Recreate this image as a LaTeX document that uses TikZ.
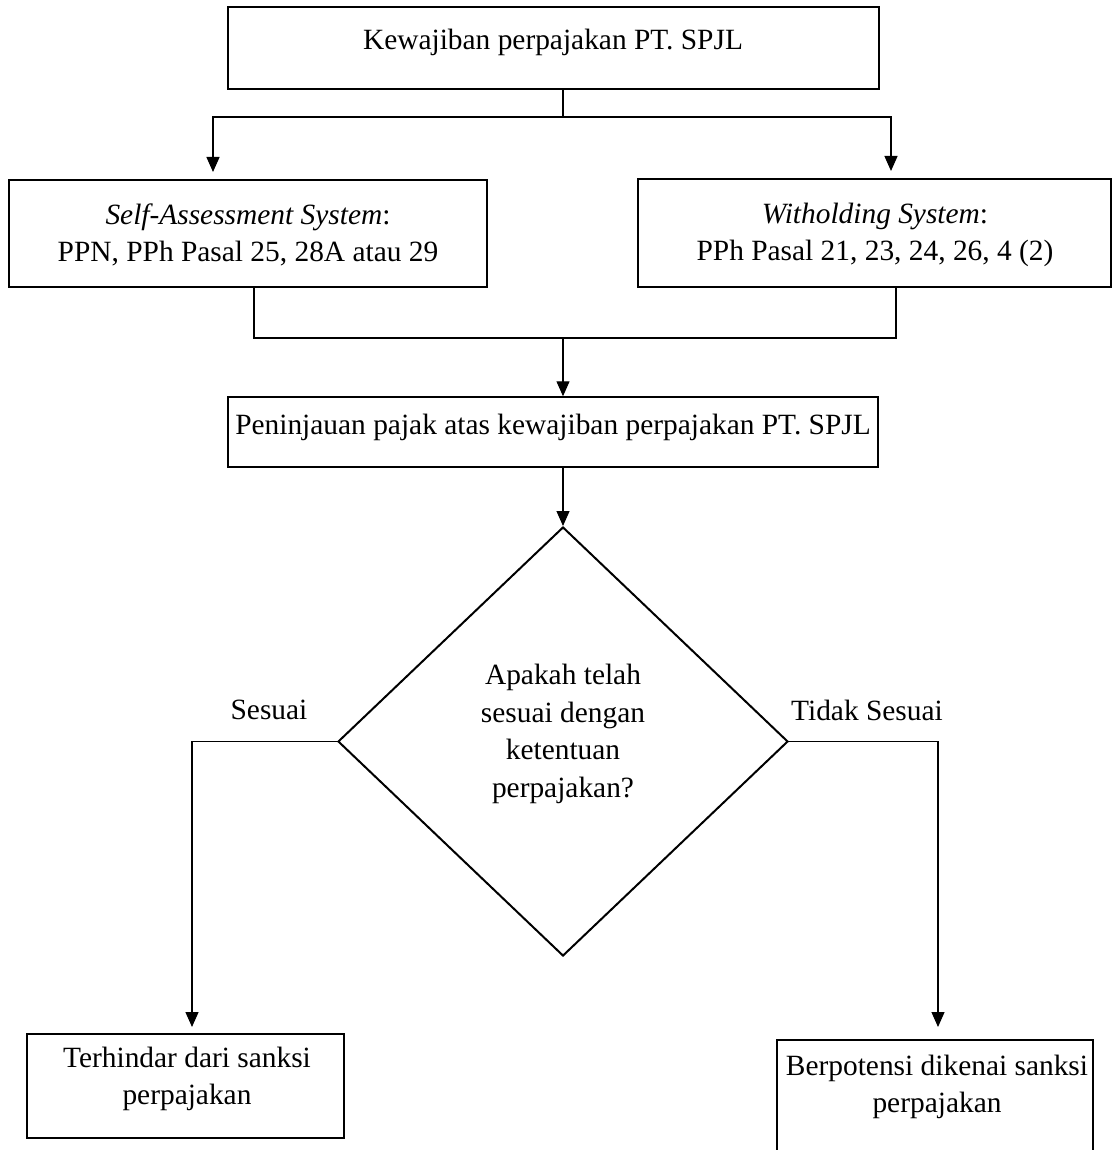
\documentclass[tikz,border=0pt]{standalone}
\usepackage{fontspec}
\setmainfont{Liberation Serif}
\usetikzlibrary{arrows.meta,shapes.geometric}
\begin{document}
\begin{tikzpicture}[x=1pt,y=-1pt,
  box/.style={draw, line width=2pt, inner sep=0pt},
  txt/.style={font=\fontsize{29.4}{37.5}\selectfont, align=center, inner sep=0pt},
  conn/.style={line width=1.3pt},
  arr/.style={conn, -{Triangle[width=13pt,length=15pt]}}]
\useasboundingbox (0,0) rectangle (1112,1150);
\clip (0,0) rectangle (1112,1150);
% boxes
\node[box, minimum width=651pt, minimum height=82pt] (top) at (553.5,48) {};
\node[box, minimum width=478pt, minimum height=107pt] (lbox) at (248,233.5) {};
\node[box, minimum width=472.5pt, minimum height=108pt] (rbox) at (874.25,233) {};
\node[box, line width=1.5pt, minimum width=650pt, minimum height=70pt] (mid) at (553,432) {};
\node[draw, line width=2pt, diamond, inner sep=0pt, minimum width=450pt, minimum height=429pt] (dia) at (563,741.5) {};
\node[box, minimum width=317pt, minimum height=104pt] (lb) at (185.5,1086) {};
\node[box, minimum width=316pt, minimum height=130pt] (rb) at (935,1105) {};
% texts
\node[txt] (ttop) at (553,42) {Kewajiban perpajakan PT. SPJL};
\node[txt] (tl) at (248,235) {\textit{Self-Assessment System}:\\PPN, PPh Pasal 25, 28A atau 29};
\node[txt] (tr) at (875,235) {\textit{Witholding System}:\\PPh Pasal 21, 23, 24, 26, 4 (2)};
\node[txt] (tm) at (553,427) {Peninjauan pajak atas kewajiban perpajakan PT. SPJL};
\node[txt] (td) at (563,734) {Apakah telah\\sesuai dengan\\ketentuan\\perpajakan?};
\node[txt] (tlb) at (187,1079) {Terhindar dari sanksi\\perpajakan};
\node[txt] (trb) at (937,1087) {Berpotensi dikenai sanksi\\perpajakan};
\node[txt] (ls) at (269,710) {Sesuai};
\node[txt] (lts) at (867,710) {Tidak Sesuai};
% connectors
\draw[conn] (top.south -| dia.north) -- ++(0,27) coordinate (j1);
\draw[arr, shorten >=7pt] (j1) -| ([xshift=-35pt]lbox.north);
\draw[arr, shorten >=7pt] (j1) -| ([xshift=16.75pt]rbox.north);
\draw[conn] ([xshift=6pt]lbox.south) -- ++(0,50) coordinate (j2) -| ([xshift=21.75pt]rbox.south);
\draw[arr] (j2 -| dia.north) -- (mid.north -| dia.north);
\draw[arr] (mid.south -| dia.north) -- (dia.north);
\draw[arr, shorten >=6pt] (dia.west) -| ([xshift=6.5pt]lb.north);
\draw[arr, shorten >=12pt] (dia.east) -| ([xshift=3pt]rb.north);
\end{tikzpicture}
\end{document}
